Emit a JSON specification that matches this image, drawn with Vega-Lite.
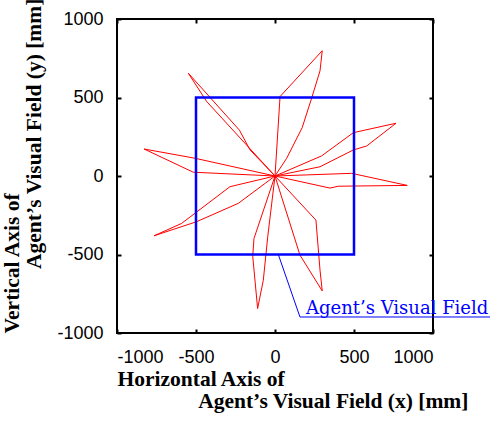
{
  "$schema": "https://vega.github.io/schema/vega-lite/v6.json",
  "autosize": "none",
  "width": 316,
  "height": 314,
  "padding": {"left": 117, "top": 19, "right": 62, "bottom": 88},
  "background": "white",
  "view": {"stroke": "black", "strokeWidth": 2},
  "config": {
    "axis": {
      "domain": false, "grid": false, "ticks": true, "tickSize": -4, "tickWidth": 2, "tickColor": "black",
      "labelFont": "Liberation Sans", "labelFontSize": 18, "labelColor": "black",
      "titleFont": "Liberation Serif", "titleFontSize": 21.5, "titleFontWeight": "bold", "titleColor": "black",
      "titleLineHeight": 22
    }
  },
  "datasets": {
    "path": [
      {"i": 0, "x": 0, "y": 0},
      {"i": 1, "x": 32, "y": 506},
      {"i": 2, "x": 299, "y": 798},
      {"i": 3, "x": 285, "y": 670},
      {"i": 4, "x": 232, "y": 496},
      {"i": 5, "x": 172, "y": 308},
      {"i": 6, "x": 74, "y": 113},
      {"i": 7, "x": 0, "y": 0},
      {"i": 8, "x": -158, "y": 166},
      {"i": 9, "x": -225, "y": 292},
      {"i": 10, "x": -549, "y": 655},
      {"i": 11, "x": -432, "y": 474},
      {"i": 12, "x": 0, "y": 0},
      {"i": 13, "x": -517, "y": 24},
      {"i": 14, "x": -829, "y": 172},
      {"i": 15, "x": -506, "y": 113},
      {"i": 16, "x": 0, "y": 0},
      {"i": 17, "x": -285, "y": -68},
      {"i": 18, "x": -591, "y": -302},
      {"i": 19, "x": -766, "y": -381},
      {"i": 20, "x": -496, "y": -291},
      {"i": 21, "x": -232, "y": -174},
      {"i": 22, "x": 0, "y": 0},
      {"i": 23, "x": -133, "y": -398},
      {"i": 24, "x": -141, "y": -511},
      {"i": 25, "x": -110, "y": -844},
      {"i": 26, "x": -74, "y": -664},
      {"i": 27, "x": -46, "y": -387},
      {"i": 28, "x": 0, "y": 0},
      {"i": 29, "x": 158, "y": -504},
      {"i": 30, "x": 299, "y": -732},
      {"i": 31, "x": 285, "y": -600},
      {"i": 32, "x": 259, "y": -281},
      {"i": 33, "x": 0, "y": 0},
      {"i": 34, "x": 348, "y": -77},
      {"i": 35, "x": 400, "y": -65},
      {"i": 36, "x": 837, "y": -60},
      {"i": 37, "x": 485, "y": 17},
      {"i": 38, "x": 0, "y": 0},
      {"i": 39, "x": 285, "y": 59},
      {"i": 40, "x": 496, "y": 166},
      {"i": 41, "x": 580, "y": 191},
      {"i": 42, "x": 766, "y": 336},
      {"i": 43, "x": 496, "y": 276},
      {"i": 44, "x": 295, "y": 128},
      {"i": 45, "x": 0, "y": 0}
    ],
    "square": [{"x1": -500, "x2": 500, "y1": -500, "y2": 500}],
    "leader": [
      {"i": 0, "x": 21, "y": -500},
      {"i": 1, "x": 158, "y": -898},
      {"i": 2, "x": 1361, "y": -898}
    ],
    "label": [{"x": 196, "y": -876, "text": "Agent’s Visual Field"}]
  },
  "resolve": {"axis": {"x": "independent", "y": "independent"}},
  "layer": [
    {
      "data": {"name": "path"},
      "mark": {"type": "line", "color": "#ff0000", "strokeWidth": 1},
      "encoding": {
        "x": {"field": "x", "type": "quantitative",
          "scale": {"domain": [-1000, 1000], "nice": false, "zero": false},
          "axis": {"orient": "bottom", "values": [-1000, -500, 0, 500, 1000], "labelPadding": 19,
            "labelExpr": "'' + datum.value",
            "titleAnchor": "start", "titleAlign": "left", "titleBaseline": "top", "titlePadding": 2,
            "title": ["Horizontal Axis of", "\u200b\u00a0\u00a0\u00a0\u00a0\u00a0\u00a0\u00a0\u00a0\u00a0\u00a0\u00a0\u00a0\u00a0\u00a0\u00a0Agent’s Visual Field (x) [mm]"]}},
        "y": {"field": "y", "type": "quantitative",
          "scale": {"domain": [-1000, 1000], "nice": false, "zero": false},
          "axis": {"orient": "left", "values": [-1000, -500, 0, 500, 1000], "labelPadding": 18,
            "labelExpr": "'' + datum.value",
            "titleAnchor": "start", "titleAlign": "left", "titlePadding": 11,
            "title": ["Vertical Axis of", "\u200b\u00a0\u00a0\u00a0\u00a0\u00a0\u00a0\u00a0\u00a0\u00a0\u00a0\u00a0\u00a0Agent’s Visual Field (y) [mm]"]}},
        "order": {"field": "i", "type": "quantitative"}
      }
    },
    {
      "data": {"name": "square"},
      "mark": {"type": "rect", "fill": null, "fillOpacity": 0, "stroke": "#0000ff", "strokeWidth": 2.5},
      "encoding": {
        "x": {"field": "x1", "type": "quantitative",
          "axis": {"orient": "top", "values": [-1000, -500, 0, 500, 1000], "labels": false, "title": null}},
        "x2": {"field": "x2"},
        "y": {"field": "y1", "type": "quantitative",
          "axis": {"orient": "right", "values": [-1000, -500, 0, 500, 1000], "labels": false, "title": null}},
        "y2": {"field": "y2"}
      }
    },
    {
      "data": {"name": "leader"},
      "mark": {"type": "line", "color": "#0000ff", "strokeWidth": 1},
      "encoding": {
        "x": {"field": "x", "type": "quantitative", "axis": null},
        "y": {"field": "y", "type": "quantitative", "axis": null},
        "order": {"field": "i", "type": "quantitative"}
      }
    },
    {
      "data": {"name": "label"},
      "mark": {"type": "text", "align": "left", "baseline": "alphabetic", "font": "DejaVu Serif", "fontSize": 18, "color": "#0000ff"},
      "encoding": {
        "x": {"field": "x", "type": "quantitative", "axis": null},
        "y": {"field": "y", "type": "quantitative", "axis": null},
        "text": {"field": "text"}
      }
    }
  ]
}
